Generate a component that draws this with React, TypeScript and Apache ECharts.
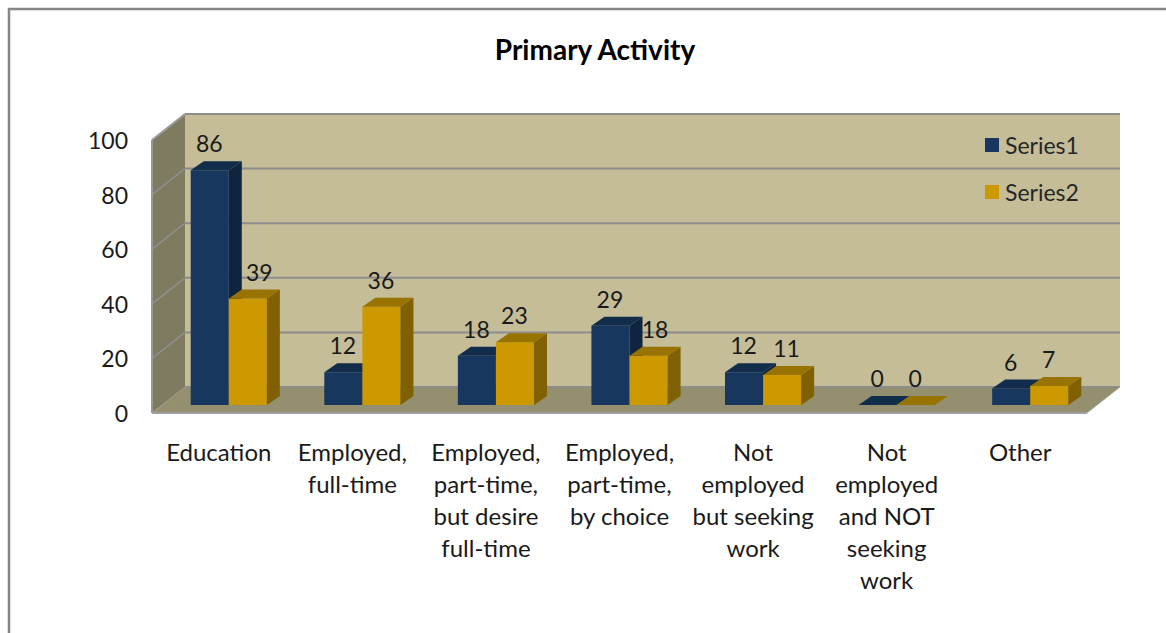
import React, { useEffect, useRef } from "react";
import * as echarts from "echarts";

const categories = [
  "Education",
  "Employed,\nfull-time",
  "Employed,\npart-time,\nbut desire\nfull-time",
  "Employed,\npart-time,\nby choice",
  "Not\nemployed\nbut seeking\nwork",
  "Not\nemployed\nand NOT\nseeking\nwork",
  "Other",
];
const series1 = [86, 12, 18, 29, 12, 0, 6];
const series2 = [39, 36, 23, 18, 11, 0, 7];
const yTicks = [0, 20, 40, 60, 80, 100];
// Horizontal nudges of the value labels that dodge the neighbouring bar in the original
const series2LabelNudge = [12, 0, 0, 7, 5, 0, 0];

const FONT = "Lato, 'Open Sans', sans-serif";
const DX = 33, DY = -26; // wall depth
const PX = 10, PY = -8; // bar plane offset from front of floor
const BX = 13, BY = -9; // bar depth

const poly = (points: number[][], fill: string, z = 0) => ({
  type: "polygon",
  z2: z,
  shape: { points },
  style: { fill, stroke: "none" },
});
const seg = (a: number[], b: number[], color = "#8c8c8c", w = 2) => ({
  type: "line",
  shape: { x1: a[0], y1: a[1], x2: b[0], y2: b[1] },
  style: { stroke: color, lineWidth: w },
});

const renderWalls = (params: any, api: any) => {
  const c = params.coordSys;
  const L = c.x, R = c.x + c.width, B = c.y + c.height, T = c.y;
  const children: any[] = [
    poly([[L + DX, T + DY], [R + DX, T + DY], [R + DX, B + DY], [L + DX, B + DY]], "#C4BD97"),
    poly([[L, T], [L + DX, T + DY], [L + DX, B + DY], [L, B]], "#7F7B60"),
    poly([[L, B], [L + DX, B + DY], [R + DX, B + DY], [R, B]], "#948F6E"),
  ];
  yTicks.forEach((t) => {
    const y = api.coord([0, t])[1];
    if (t > 0 && t < 100) children.push(seg([L, y], [L + DX, y + DY], "#8f8f8f", 1.5));
    children.push(seg([L + DX, y + DY], [R + DX, y + DY]));
  });
  children.push(seg([L, T], [L + DX, T + DY], "#999999"));
  children.push(seg([L, T], [L, B], "#999999"));
  children.push(seg([L, B], [R, B], "#a0a0a0"));
  children.push(seg([R, B], [R + DX, B + DY], "#b0b0a0", 1));
  return { type: "group", children };
};

const makeBar = (side: -1 | 1, front: string, right: string, top: string, nudges?: number[]) =>
  (params: any, api: any) => {
    const i = api.value(0), v = api.value(1);
    const base = api.coord([i, 0]);
    const tip = api.coord([i, v]);
    const w = api.size([1, 0])[0] * 0.285;
    const x0 = base[0] + PX + (side < 0 ? -w : 0);
    const x1 = x0 + w;
    const yb = base[1] + PY, yt = tip[1] + PY;
    const nudge = nudges ? nudges[params.dataIndex] : 0;
    return {
      type: "group",
      children: [
        poly([[x0, yb], [x1, yb], [x1, yt], [x0, yt]], front),
        poly([[x1, yb], [x1 + BX, yb + BY], [x1 + BX, yt + BY], [x1, yt]], right),
        poly([[x0, yt], [x1, yt], [x1 + BX, yt + BY], [x0 + BX, yt + BY]], top),
        {
          type: "text",
          style: {
            text: String(v),
            x: (x0 + x1) / 2 + nudge - 0.5,
            y: yt - 27,
            align: "center",
            verticalAlign: "middle",
            font: `23px ${FONT}`,
            fill: "#1a1a1a",
          },
        },
      ],
    };
  };

export default function App() {
  const ref = useRef<HTMLDivElement>(null);
  useEffect(() => {
    const chart = echarts.init(ref.current!, null, { renderer: "svg" });
    chart.setOption({
      animation: false,
      backgroundColor: "#ffffff",
      title: {
        text: "Primary Activity",
        left: 590,
        top: 30,
        textAlign: "center",
        textStyle: { fontFamily: FONT, fontSize: 28, fontWeight: "bold", color: "#000" },
      },
      graphic: [
        {
          type: "rect",
          shape: { x: 9, y: 9, width: 1400, height: 900 },
          style: { fill: "none", stroke: "#868686", lineWidth: 2.5 },
          silent: true,
        },
      ],
      legend: {
        orient: "vertical",
        left: 980,
        top: 128,
        itemWidth: 14,
        itemHeight: 14,
        itemGap: 23,
        selectedMode: false,
        icon: "rect",
        data: ["Series1", "Series2"],
        textStyle: { fontFamily: FONT, fontSize: 23, color: "#262626", padding: [0, 0, 0, 1], lineHeight: 24 },
      },
      grid: { left: 152, width: 935, top: 140, height: 273 },
      xAxis: {
        type: "category",
        data: categories,
        axisLine: { show: false },
        axisTick: { show: false },
        axisLabel: {
          interval: 0,
          margin: 22,
          fontFamily: FONT,
          fontSize: 24,
          lineHeight: 32,
          color: "#1a1a1a",
        },
      },
      yAxis: {
        type: "value",
        min: 0,
        max: 100,
        interval: 20,
        axisLine: { show: false },
        axisTick: { show: false },
        splitLine: { show: false },
        axisLabel: { margin: 24, fontFamily: FONT, fontSize: 23, color: "#1a1a1a" },
      },
      series: [
        {
          type: "custom",
          name: "walls",
          silent: true,
          z: 1,
          renderItem: renderWalls,
          data: [[0, 0]],
          encode: { x: 0, y: 1 },
        },
        {
          type: "custom",
          name: "Series1",
          z: 2,
          itemStyle: { color: "#17375E" },
          renderItem: makeBar(-1, "#17375E", "#0F243E", "#122C4B"),
          data: series1.map((v, i) => [i, v]),
          encode: { x: 0, y: 1 },
        },
        {
          type: "custom",
          name: "Series2",
          z: 3,
          itemStyle: { color: "#CC9900" },
          renderItem: makeBar(1, "#CC9900", "#806000", "#997300", series2LabelNudge),
          data: series2.map((v, i) => [i, v]),
          encode: { x: 0, y: 1 },
        },
      ],
    });
    return () => chart.dispose();
  }, []);
  return <div ref={ref} style={{ position: "fixed", left: 0, top: 0, width: 1166, height: 633 }} />;
}
